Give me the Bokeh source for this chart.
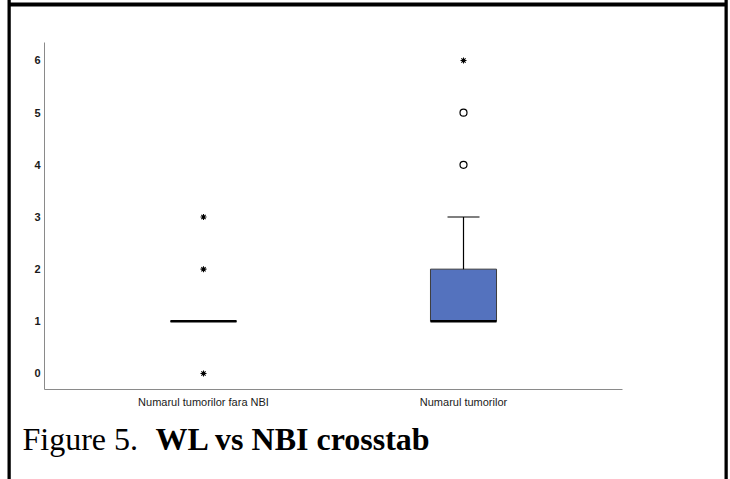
from bokeh.plotting import figure
from bokeh.models import FactorRange, Range1d, Label, FixedTicker
from bokeh.transform import dodge
from bokeh.embed import file_html
from bokeh.resources import INLINE

# ---- data ----
cats = ["Numarul tumorilor fara NBI", "Numarul tumorilor"]
q1 = [1, 1]
median = [1, 1]
q3 = [1, 2]
lower = [1, 1]
upper = [1, 3]
outlier_cat = ["Numarul tumorilor", "Numarul tumorilor"]
outlier_val = [4, 5]
extreme_cat = ["Numarul tumorilor fara NBI", "Numarul tumorilor fara NBI",
               "Numarul tumorilor fara NBI", "Numarul tumorilor"]
extreme_val = [0, 2, 3, 6]
y_ticks = [0, 1, 2, 3, 4, 5, 6]

BOX_W = 0.254
CAP_W = 0.123

p = figure(width=730, height=479, output_backend="svg", toolbar_location=None,
           x_range=FactorRange(factors=cats, range_padding=0.1115),
           y_range=Range1d(-0.307, 6.345),
           min_border_left=44, min_border_right=108, min_border_top=42,
           min_border_bottom=90)
p.outline_line_color = None
p.xgrid.grid_line_color = None
p.ygrid.grid_line_color = None

for ax in (p.xaxis[0], p.yaxis[0]):
    ax.axis_line_color = "#8a8a8a"
    ax.axis_line_width = 1
    ax.major_tick_line_color = None
    ax.minor_tick_line_color = None
    ax.major_tick_out = 0
    ax.major_tick_in = 0
p.yaxis.ticker = FixedTicker(ticks=y_ticks)
p.yaxis.major_label_text_font = "Liberation Sans"
p.yaxis.major_label_text_font_size = "11px"
p.yaxis.major_label_text_font_style = "bold"
p.yaxis.major_label_text_color = "#1a1a1a"
p.yaxis.major_label_standoff = 4
p.xaxis.major_label_text_font = "Liberation Sans"
p.xaxis.major_label_text_font_size = "11px"
p.xaxis.major_label_text_color = "#1a1a1a"
p.xaxis.major_label_standoff = 6

p.vbar(x=cats, top=q3, bottom=q1, width=BOX_W, fill_color="#5472be",
       line_color="#3c3c3c", line_width=1)
p.segment(x0=cats, y0=q3, x1=cats, y1=upper, line_color="black", line_width=1.2)
p.segment(x0=cats, y0=q1, x1=cats, y1=lower, line_color="black", line_width=1.2)
cap_cats = [c for c, u, t in zip(cats, upper, q3) if u > t]
cap_vals = [u for u, t in zip(upper, q3) if u > t]
p.segment(x0=dodge("x", -CAP_W / 2, range=p.x_range),
          x1=dodge("x", CAP_W / 2, range=p.x_range),
          y0="y", y1="y", source=dict(x=cap_cats, y=cap_vals),
          line_color="black", line_width=1.2)
p.segment(x0=dodge("x", -BOX_W / 2, range=p.x_range),
          x1=dodge("x", BOX_W / 2, range=p.x_range),
          y0="y", y1="y", source=dict(x=cats, y=median),
          line_color="black", line_width=2.5)
p.scatter(x=outlier_cat, y=outlier_val, marker="circle", size=7,
          fill_color="white", line_color="black", line_width=1.2)
p.scatter(x=extreme_cat, y=extreme_val, marker="asterisk", size=6,
          line_color="black", line_width=1.1)

# caption (side-panel labels are not clipped to the frame)
p.add_layout(Label(x=-22, y=-396, x_units="screen", y_units="screen",
                   text="Figure 5.", text_font="Liberation Serif",
                   text_font_size="32px", text_color="black",
                   text_baseline="alphabetic"), "above")
p.add_layout(Label(x=111, y=8, x_units="screen", y_units="screen",
                   text="WL vs NBI crosstab", text_font="Liberation Serif",
                   text_font_size="32px", text_font_style="bold",
                   text_color="black", text_baseline="alphabetic"), "below")

def bar(x, y, w, h):
    return Label(x=x, y=y, x_units="screen", y_units="screen", text=" ",
                 text_font_size="1px", padding=(0, w, h, 0),
                 background_fill_color="black", border_line_color=None)

p.add_layout(bar(-36, 0, 718, 3), "above")
p.add_layout(bar(-21, -96, 3, 487), "left")
p.add_layout(bar(102, -96, 3, 487), "right")

open("out.html", "w").write(file_html(p, INLINE))
